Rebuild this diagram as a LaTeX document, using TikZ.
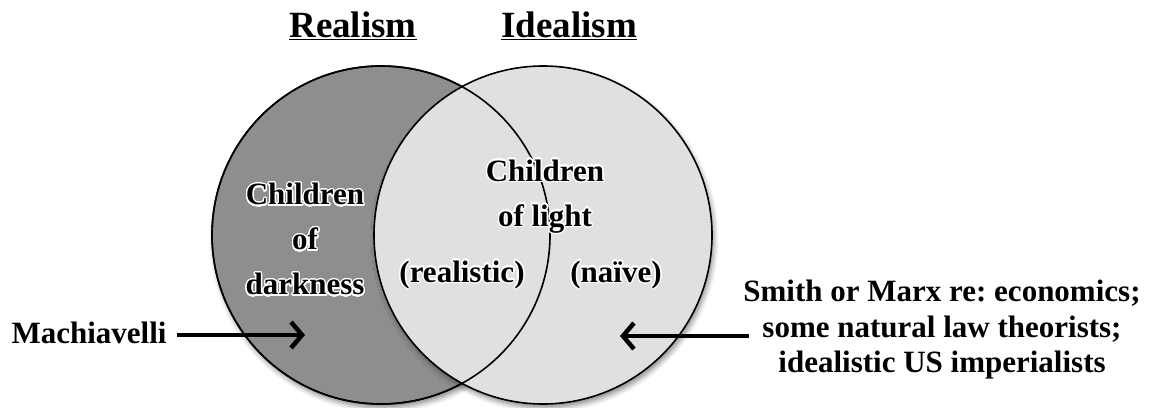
\documentclass[tikz,border=0pt]{standalone}
\usepackage{fontspec}
\setmainfont{Liberation Serif}
\usepackage{contour}
\contourlength{1.3pt}
\contournumber{32}
\usetikzlibrary{arrows.meta,shadows.blur}
\definecolor{darkside}{RGB}{142,142,142}
\definecolor{lightside}{RGB}{224,224,224}
\newcommand\glow[1]{\contour{white}{#1}}
\frenchspacing
\begin{document}
\begin{tikzpicture}[x=1pt,y=-1pt,
    every node/.style={font=\bfseries\fontsize{31}{45}\selectfont, align=center, inner sep=2pt},
    title/.style={font=\bfseries\fontsize{37}{44}\selectfont, anchor=base},
    ring/.style={circle, draw=black, line width=1.6pt, minimum size=338pt, inner sep=0pt,
      blur shadow={shadow xshift=2pt, shadow yshift=-4pt, shadow blur radius=5pt, shadow opacity=45}},
    push/.style={line width=4.5pt, -{Straight Barb[length=11pt,width=26pt]}}]
  \useasboundingbox (0,0) rectangle (1153,407);
  \node[ring, fill=darkside] (realm) at (381,235) {};
  \node[ring, fill=lightside] (idealm) at (543,235) {};
  \draw[line width=1.6pt] (realm.center) circle (169pt);
  \draw
    (353,37) node[title] (realism){\underline{Realism}}
    (569,37) node[title] (idealism){\underline{Idealism}}
    (305,240) node (dark){\glow{Children}\\\glow{of}\\\glow{darkness}}
    (545,197) node (light){\glow{Children}\\\glow{of light}}
    (462,282) node[anchor=base] (realistic){\glow{(realistic)}}
    (616,282) node[anchor=base] (naive){\glow{(naïve)}}
    (89,343) node[anchor=base] (machiavelli){Machiavelli}
    (942,330) node[font=\bfseries\fontsize{31}{35.5}\selectfont] (critics){Smith or Marx re: economics;\\some natural law theorists;\\idealistic US imperialists};
  \coordinate (darktip) at (305,335);
  \coordinate (lighttip) at (620,336);
  \begin{scope}[push]
    \draw ([xshift=8pt]machiavelli.east |- darktip) to (darktip);
    \draw ([xshift=8pt]critics.west |- lighttip) to (lighttip);
  \end{scope}
\end{tikzpicture}
\end{document}
